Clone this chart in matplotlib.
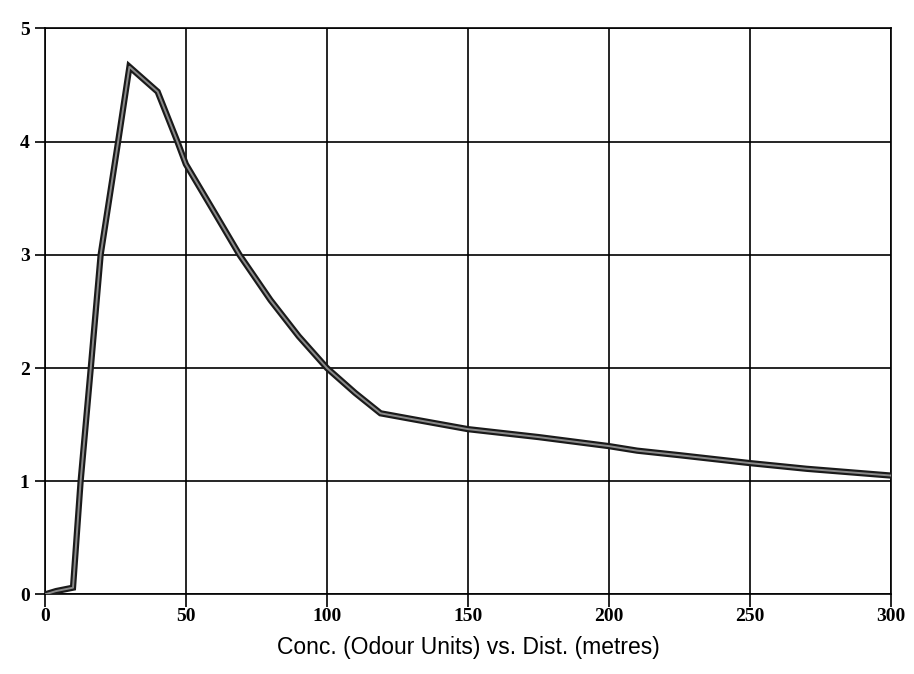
import matplotlib.pyplot as plt

# distance (metres) and concentration (odour units)
dist = [0, 4, 8, 10, 12.7, 16.3, 19.8, 26, 30, 40, 47, 50, 60, 69, 80, 90,
        100, 110, 119, 130, 150, 175, 200, 210, 225, 250, 270, 285, 300]
conc = [0, 0.03, 0.05, 0.06, 1.0, 2.0, 3.0, 4.0, 4.66, 4.44, 4.0, 3.8, 3.38,
        3.0, 2.6, 2.28, 2.0, 1.78, 1.6, 1.55, 1.46, 1.39, 1.31, 1.27, 1.23,
        1.16, 1.11, 1.08, 1.05]

x_ticks = [0, 50, 100, 150, 200, 250, 300]
y_ticks = [0, 1, 2, 3, 4, 5]

fig = plt.figure(figsize=(9.14, 6.74), dpi=100)
ax = fig.add_axes([0.049, 0.118, 0.926, 0.84])

# thick dark line with a grey core, like the printed trace
ax.plot(dist, conc, color='#1a1a1a', lw=4.5, solid_joinstyle='miter', zorder=3)
ax.plot(dist, conc, color='#8a8a8a', lw=1.4, zorder=4)

ax.set_xlim(0, 300)
ax.set_ylim(0, 5)
ax.set_xticks(x_ticks)
ax.set_yticks(y_ticks)
ax.grid(True, color='black', lw=1.2)
ax.set_axisbelow(True)
for s in ax.spines.values():
    s.set_linewidth(1.2)

tick_font = dict(family='Liberation Serif', weight='bold', size=14)
ax.set_xticklabels([str(v) for v in x_ticks], **tick_font)
ax.set_yticklabels([str(v) for v in y_ticks], **tick_font)
ax.tick_params(axis='x', length=9, width=1.2, direction='out', pad=1)
ax.tick_params(axis='y', length=7, width=1.2, direction='out', pad=4)

ax.set_xlabel('Conc. (Odour Units) vs. Dist. (metres)', family='Liberation Sans',
              size=16.5, labelpad=8)

fig.savefig('out.png', dpi=100)
